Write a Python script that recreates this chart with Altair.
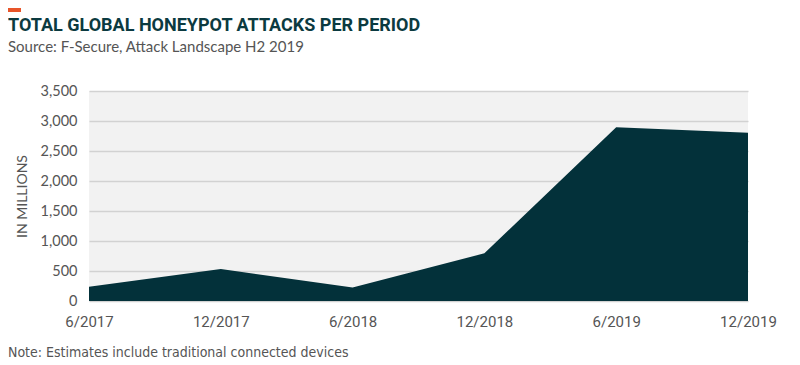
import altair as alt
import pandas as pd

periods = ["6/2017", "12/2017", "6/2018", "12/2018", "6/2019", "12/2019"]
attacks = [238, 532, 226, 795, 2895, 2805]
y_ticks = [0, 500, 1000, 1500, 2000, 2500, 3000, 3500]

title_text = "TOTAL GLOBAL HONEYPOT ATTACKS PER PERIOD"
subtitle_text = "Source: F-Secure, Attack Landscape H2 2019"
note_text = "Note: Estimates include traditional connected devices"
y_title = "IN MILLIONS"

df = pd.DataFrame({"period": periods, "attacks": attacks})

COND = "Liberation Sans Narrow, DejaVu Sans Condensed, Roboto, sans-serif"
SANS = "Lato, Roboto, sans-serif"
GRAY = "#555555"
DARK = "#03313a"

area = alt.Chart(df).mark_area(color=DARK, opacity=1, interpolate="linear").encode(
    x=alt.X(
        "period:N",
        sort=periods,
        scale=alt.Scale(type="point", padding=0),
        axis=alt.Axis(
            title=None,
            labelAngle=0,
            labelFont="Roboto, sans-serif",
            labelFontSize=15,
            labelColor=GRAY,
            labelPadding=13,
            ticks=False,
            domain=False,
            grid=False,
        ),
    ),
    y=alt.Y(
        "attacks:Q",
        scale=alt.Scale(domain=[0, 3500], nice=False),
        axis=alt.Axis(
            title=y_title,
            values=y_ticks,
            format=",.0f",
            labelFont=SANS,
            labelFontSize=14.5,
            labelColor=GRAY,
            labelPadding=12,
            titleFont=SANS,
            titleFontSize=14,
            titleFontWeight="normal",
            titleColor=GRAY,
            titlePadding=11,
            ticks=False,
            domain=False,
            gridColor="#d2d2d2",
            gridWidth=1.5,
        ),
    ),
)

marker = alt.Chart(alt.Data(values=[{}])).mark_rect(color="#e8552a").encode(
    x=alt.value(-81), x2=alt.value(-68), y=alt.value(-83), y2=alt.value(-79)
)

title = alt.Chart(alt.Data(values=[{"t": title_text}])).mark_text(
    align="left", baseline="alphabetic", font="Roboto, sans-serif", fontSize=18,
    fontWeight="bold", color="#0b3a40"
).encode(text="t:N", x=alt.value(-81), y=alt.value(-60))

subtitle = alt.Chart(alt.Data(values=[{"t": subtitle_text}])).mark_text(
    align="left", baseline="alphabetic", font=SANS, fontSize=15, color=GRAY
).encode(text="t:N", x=alt.value(-81), y=alt.value(-39))

note = alt.Chart(alt.Data(values=[{"t": note_text}])).mark_text(
    align="left", baseline="middle", font=COND, fontSize=14, color=GRAY
).encode(text="t:N", x=alt.value(-81), y=alt.value(262))

chart = (
    alt.layer(area, marker, title, subtitle, note)
    .properties(
        width=659,
        height=210,
        autosize=alt.AutoSizeParams(type="none"),
        padding={"left": 81, "top": 83, "right": 40, "bottom": 60},
    )
    .configure_view(fill="#f2f2f2", strokeWidth=0)
)

chart.save("out.html", embed_options={"renderer": "svg", "actions": False})
